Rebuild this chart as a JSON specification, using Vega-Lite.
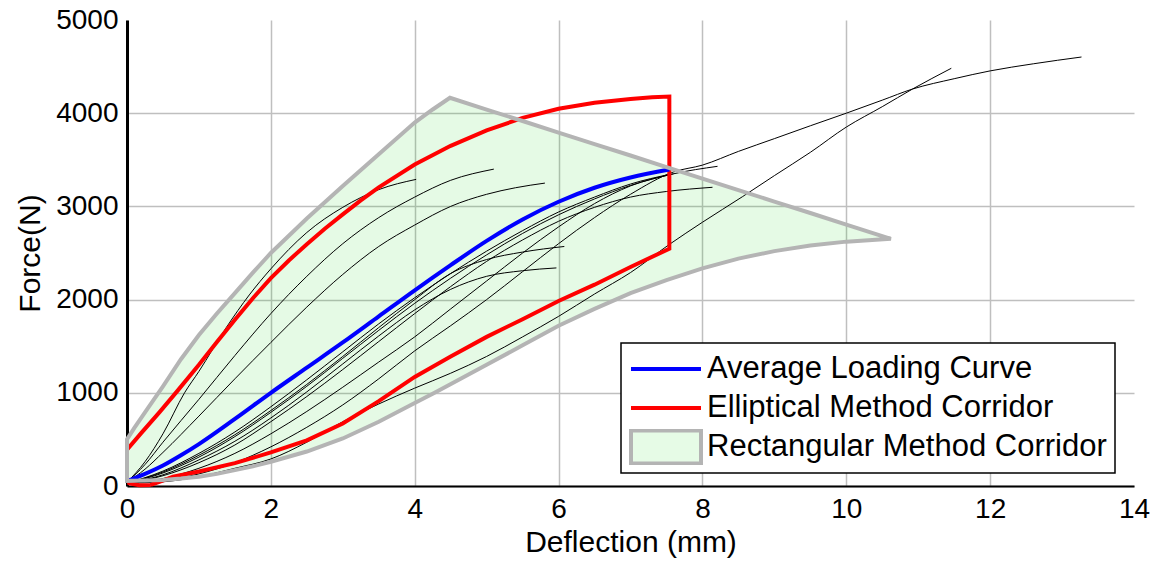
{
  "$schema": "https://vega.github.io/schema/vega-lite/v6.json",
  "width": 1007,
  "height": 466,
  "autosize": {"type": "none"},
  "padding": {"left": 127, "top": 20, "right": 20, "bottom": 81},
  "background": "white",
  "config": {
    "view": {"stroke": null},
    "font": "Liberation Sans",
    "axis": {
      "labelFont": "Liberation Sans",
      "titleFont": "Liberation Sans",
      "labelColor": "black",
      "titleColor": "black",
      "titleFontWeight": "normal",
      "labelFontSize": 28,
      "titleFontSize": 30,
      "ticks": false,
      "tickSize": 0,
      "labelFlush": false,
      "gridColor": "#bfbfbf",
      "gridWidth": 1.5,
      "domainColor": "black"
    }
  },
  "datasets": {
    "rect": [
      {"x": 0, "y": 500, "lo": 55},
      {"x": 0.1, "y": 620, "lo": 56},
      {"x": 0.25, "y": 790, "lo": 58},
      {"x": 0.5, "y": 1070, "lo": 65},
      {"x": 0.75, "y": 1360, "lo": 80},
      {"x": 1, "y": 1620, "lo": 100},
      {"x": 1.25, "y": 1850, "lo": 130},
      {"x": 1.5, "y": 2070, "lo": 170},
      {"x": 1.75, "y": 2290, "lo": 212},
      {"x": 2, "y": 2500, "lo": 260},
      {"x": 2.5, "y": 2870, "lo": 370},
      {"x": 3, "y": 3220, "lo": 510},
      {"x": 3.5, "y": 3560, "lo": 690},
      {"x": 4, "y": 3900, "lo": 890},
      {"x": 4.25, "y": 4040, "lo": 990},
      {"x": 4.49, "y": 4165, "lo": 1090},
      {"x": 5, "y": 4039, "lo": 1300},
      {"x": 5.5, "y": 3916, "lo": 1510},
      {"x": 6, "y": 3792, "lo": 1720},
      {"x": 6.5, "y": 3669, "lo": 1900},
      {"x": 7, "y": 3546, "lo": 2070},
      {"x": 7.5, "y": 3422, "lo": 2210},
      {"x": 8, "y": 3299, "lo": 2335},
      {"x": 8.5, "y": 3175, "lo": 2440},
      {"x": 9, "y": 3052, "lo": 2520},
      {"x": 9.5, "y": 2929, "lo": 2580},
      {"x": 10, "y": 2805, "lo": 2622},
      {"x": 10.62, "y": 2652, "lo": 2652}
    ],
    "tests": [
      {"t": "A", "x": 0, "y": 40}, {"t": "A", "x": 0.25, "y": 260}, {"t": "A", "x": 0.5, "y": 560}, {"t": "A", "x": 0.8, "y": 1000}, {"t": "A", "x": 1, "y": 1230}, {"t": "A", "x": 1.38, "y": 1700}, {"t": "A", "x": 1.7, "y": 2050}, {"t": "A", "x": 2, "y": 2330}, {"t": "A", "x": 2.5, "y": 2720}, {"t": "A", "x": 3, "y": 2990}, {"t": "A", "x": 3.5, "y": 3180}, {"t": "A", "x": 4.02, "y": 3290},
      {"t": "B", "x": 0, "y": 40}, {"t": "B", "x": 0.25, "y": 230}, {"t": "B", "x": 0.5, "y": 470}, {"t": "B", "x": 1, "y": 930}, {"t": "B", "x": 1.5, "y": 1400}, {"t": "B", "x": 2, "y": 1850}, {"t": "B", "x": 2.5, "y": 2250}, {"t": "B", "x": 3, "y": 2600}, {"t": "B", "x": 3.5, "y": 2880}, {"t": "B", "x": 4, "y": 3100}, {"t": "B", "x": 4.5, "y": 3280}, {"t": "B", "x": 5.1, "y": 3400},
      {"t": "C", "x": 0, "y": 40}, {"t": "C", "x": 0.25, "y": 180}, {"t": "C", "x": 0.5, "y": 360}, {"t": "C", "x": 1, "y": 750}, {"t": "C", "x": 1.5, "y": 1150}, {"t": "C", "x": 2, "y": 1540}, {"t": "C", "x": 2.5, "y": 1920}, {"t": "C", "x": 3, "y": 2270}, {"t": "C", "x": 3.5, "y": 2570}, {"t": "C", "x": 4, "y": 2800}, {"t": "C", "x": 4.5, "y": 3000}, {"t": "C", "x": 5, "y": 3130}, {"t": "C", "x": 5.4, "y": 3200}, {"t": "C", "x": 5.81, "y": 3250},
      {"t": "M1", "x": 0, "y": 30}, {"t": "M1", "x": 0.5, "y": 160}, {"t": "M1", "x": 1, "y": 350}, {"t": "M1", "x": 1.5, "y": 580}, {"t": "M1", "x": 2, "y": 850}, {"t": "M1", "x": 2.5, "y": 1140}, {"t": "M1", "x": 3, "y": 1440}, {"t": "M1", "x": 3.5, "y": 1740}, {"t": "M1", "x": 4, "y": 2020}, {"t": "M1", "x": 4.5, "y": 2280}, {"t": "M1", "x": 5, "y": 2520}, {"t": "M1", "x": 5.5, "y": 2740}, {"t": "M1", "x": 6, "y": 2940}, {"t": "M1", "x": 6.5, "y": 3100}, {"t": "M1", "x": 7, "y": 3240}, {"t": "M1", "x": 7.55, "y": 3345},
      {"t": "M2", "x": 0, "y": 30}, {"t": "M2", "x": 0.5, "y": 140}, {"t": "M2", "x": 1, "y": 310}, {"t": "M2", "x": 1.5, "y": 530}, {"t": "M2", "x": 2, "y": 790}, {"t": "M2", "x": 2.5, "y": 1070}, {"t": "M2", "x": 3, "y": 1370}, {"t": "M2", "x": 3.5, "y": 1670}, {"t": "M2", "x": 4, "y": 1960}, {"t": "M2", "x": 4.5, "y": 2230}, {"t": "M2", "x": 5, "y": 2480}, {"t": "M2", "x": 5.5, "y": 2710}, {"t": "M2", "x": 6, "y": 2910}, {"t": "M2", "x": 6.5, "y": 3080}, {"t": "M2", "x": 7, "y": 3225}, {"t": "M2", "x": 7.6, "y": 3350},
      {"t": "D", "x": 0, "y": 30}, {"t": "D", "x": 0.5, "y": 150}, {"t": "D", "x": 1, "y": 330}, {"t": "D", "x": 1.5, "y": 550}, {"t": "D", "x": 2, "y": 810}, {"t": "D", "x": 2.5, "y": 1090}, {"t": "D", "x": 3, "y": 1390}, {"t": "D", "x": 3.5, "y": 1700}, {"t": "D", "x": 4, "y": 2000}, {"t": "D", "x": 4.5, "y": 2280}, {"t": "D", "x": 5, "y": 2430}, {"t": "D", "x": 5.5, "y": 2510}, {"t": "D", "x": 6.08, "y": 2570},
      {"t": "E", "x": 0, "y": 30}, {"t": "E", "x": 0.5, "y": 120}, {"t": "E", "x": 1, "y": 280}, {"t": "E", "x": 1.5, "y": 480}, {"t": "E", "x": 2, "y": 730}, {"t": "E", "x": 2.5, "y": 1010}, {"t": "E", "x": 3, "y": 1310}, {"t": "E", "x": 3.5, "y": 1610}, {"t": "E", "x": 4, "y": 1890}, {"t": "E", "x": 4.5, "y": 2110}, {"t": "E", "x": 5, "y": 2250}, {"t": "E", "x": 5.5, "y": 2310}, {"t": "E", "x": 5.97, "y": 2340},
      {"t": "F", "x": 0, "y": 30}, {"t": "F", "x": 0.5, "y": 110}, {"t": "F", "x": 1, "y": 250}, {"t": "F", "x": 1.5, "y": 440}, {"t": "F", "x": 2, "y": 690}, {"t": "F", "x": 2.5, "y": 960}, {"t": "F", "x": 3, "y": 1250}, {"t": "F", "x": 3.5, "y": 1550}, {"t": "F", "x": 4, "y": 1850}, {"t": "F", "x": 4.5, "y": 2140}, {"t": "F", "x": 5, "y": 2410}, {"t": "F", "x": 5.5, "y": 2640}, {"t": "F", "x": 6, "y": 2840}, {"t": "F", "x": 6.5, "y": 2990}, {"t": "F", "x": 7, "y": 3100}, {"t": "F", "x": 7.5, "y": 3160}, {"t": "F", "x": 8.14, "y": 3205},
      {"t": "G", "x": 0, "y": 30}, {"t": "G", "x": 0.5, "y": 80}, {"t": "G", "x": 1, "y": 190}, {"t": "G", "x": 1.5, "y": 350}, {"t": "G", "x": 2, "y": 560}, {"t": "G", "x": 2.5, "y": 800}, {"t": "G", "x": 3, "y": 1060}, {"t": "G", "x": 3.5, "y": 1330}, {"t": "G", "x": 4, "y": 1600}, {"t": "G", "x": 4.5, "y": 1900}, {"t": "G", "x": 5, "y": 2200}, {"t": "G", "x": 5.5, "y": 2500}, {"t": "G", "x": 6, "y": 2780}, {"t": "G", "x": 6.5, "y": 3030}, {"t": "G", "x": 7, "y": 3220}, {"t": "G", "x": 7.6, "y": 3350}, {"t": "G", "x": 8.21, "y": 3430},
      {"t": "H", "x": 0, "y": 30}, {"t": "H", "x": 0.5, "y": 60}, {"t": "H", "x": 1, "y": 130}, {"t": "H", "x": 1.5, "y": 250}, {"t": "H", "x": 2, "y": 420}, {"t": "H", "x": 2.5, "y": 630}, {"t": "H", "x": 3, "y": 870}, {"t": "H", "x": 3.5, "y": 1150}, {"t": "H", "x": 4, "y": 1450}, {"t": "H", "x": 4.5, "y": 1720}, {"t": "H", "x": 5, "y": 2000}, {"t": "H", "x": 5.5, "y": 2300}, {"t": "H", "x": 6, "y": 2600}, {"t": "H", "x": 6.5, "y": 2880}, {"t": "H", "x": 7, "y": 3130}, {"t": "H", "x": 7.6, "y": 3370}, {"t": "H", "x": 8, "y": 3443}, {"t": "H", "x": 8.5, "y": 3590}, {"t": "H", "x": 9, "y": 3727}, {"t": "H", "x": 9.5, "y": 3865}, {"t": "H", "x": 10, "y": 4000}, {"t": "H", "x": 10.5, "y": 4140}, {"t": "H", "x": 10.92, "y": 4259}, {"t": "H", "x": 11.5, "y": 4370}, {"t": "H", "x": 12, "y": 4454}, {"t": "H", "x": 12.6, "y": 4530}, {"t": "H", "x": 13.27, "y": 4603},
      {"t": "I", "x": 0, "y": 30}, {"t": "I", "x": 0.5, "y": 45}, {"t": "I", "x": 1, "y": 100}, {"t": "I", "x": 1.5, "y": 190}, {"t": "I", "x": 2, "y": 290}, {"t": "I", "x": 2.5, "y": 470}, {"t": "I", "x": 3, "y": 690}, {"t": "I", "x": 3.5, "y": 880}, {"t": "I", "x": 4, "y": 1050}, {"t": "I", "x": 4.5, "y": 1210}, {"t": "I", "x": 5, "y": 1390}, {"t": "I", "x": 5.5, "y": 1600}, {"t": "I", "x": 6, "y": 1820}, {"t": "I", "x": 6.5, "y": 2060}, {"t": "I", "x": 7, "y": 2290}, {"t": "I", "x": 7.54, "y": 2592}, {"t": "I", "x": 8, "y": 2830}, {"t": "I", "x": 8.56, "y": 3106}, {"t": "I", "x": 9, "y": 3330}, {"t": "I", "x": 9.5, "y": 3580}, {"t": "I", "x": 10, "y": 3851}, {"t": "I", "x": 10.5, "y": 4070}, {"t": "I", "x": 10.92, "y": 4259}, {"t": "I", "x": 11.46, "y": 4482}
    ],
    "ellipse": [
      {"series": "Elliptical Method Corridor", "i": 0, "x": 0.33, "y": 12},
      {"series": "Elliptical Method Corridor", "i": 1, "x": 0.17, "y": 8},
      {"series": "Elliptical Method Corridor", "i": 2, "x": 0.03, "y": 30},
      {"series": "Elliptical Method Corridor", "i": 3, "x": 0, "y": 90},
      {"series": "Elliptical Method Corridor", "i": 4, "x": 0, "y": 390},
      {"series": "Elliptical Method Corridor", "i": 5, "x": 0.2, "y": 570},
      {"series": "Elliptical Method Corridor", "i": 6, "x": 0.45, "y": 790},
      {"series": "Elliptical Method Corridor", "i": 7, "x": 0.69, "y": 1010},
      {"series": "Elliptical Method Corridor", "i": 8, "x": 1, "y": 1300},
      {"series": "Elliptical Method Corridor", "i": 9, "x": 1.25, "y": 1545},
      {"series": "Elliptical Method Corridor", "i": 10, "x": 1.5, "y": 1785},
      {"series": "Elliptical Method Corridor", "i": 11, "x": 1.75, "y": 2015},
      {"series": "Elliptical Method Corridor", "i": 12, "x": 2, "y": 2230},
      {"series": "Elliptical Method Corridor", "i": 13, "x": 2.25, "y": 2420},
      {"series": "Elliptical Method Corridor", "i": 14, "x": 2.5, "y": 2595},
      {"series": "Elliptical Method Corridor", "i": 15, "x": 2.75, "y": 2760},
      {"series": "Elliptical Method Corridor", "i": 16, "x": 3, "y": 2915},
      {"series": "Elliptical Method Corridor", "i": 17, "x": 3.25, "y": 3065},
      {"series": "Elliptical Method Corridor", "i": 18, "x": 3.5, "y": 3205},
      {"series": "Elliptical Method Corridor", "i": 19, "x": 4, "y": 3449},
      {"series": "Elliptical Method Corridor", "i": 20, "x": 4.5, "y": 3650},
      {"series": "Elliptical Method Corridor", "i": 21, "x": 5, "y": 3815},
      {"series": "Elliptical Method Corridor", "i": 22, "x": 5.5, "y": 3950},
      {"series": "Elliptical Method Corridor", "i": 23, "x": 6, "y": 4047},
      {"series": "Elliptical Method Corridor", "i": 24, "x": 6.5, "y": 4112},
      {"series": "Elliptical Method Corridor", "i": 25, "x": 7, "y": 4152},
      {"series": "Elliptical Method Corridor", "i": 26, "x": 7.3, "y": 4170},
      {"series": "Elliptical Method Corridor", "i": 27, "x": 7.54, "y": 4178},
      {"series": "Elliptical Method Corridor", "i": 28, "x": 7.54, "y": 2546},
      {"series": "Elliptical Method Corridor", "i": 29, "x": 7, "y": 2350},
      {"series": "Elliptical Method Corridor", "i": 30, "x": 6.5, "y": 2160},
      {"series": "Elliptical Method Corridor", "i": 31, "x": 6, "y": 1985},
      {"series": "Elliptical Method Corridor", "i": 32, "x": 5.5, "y": 1790},
      {"series": "Elliptical Method Corridor", "i": 33, "x": 5, "y": 1600},
      {"series": "Elliptical Method Corridor", "i": 34, "x": 4.5, "y": 1390},
      {"series": "Elliptical Method Corridor", "i": 35, "x": 4, "y": 1170},
      {"series": "Elliptical Method Corridor", "i": 36, "x": 3.5, "y": 910},
      {"series": "Elliptical Method Corridor", "i": 37, "x": 3, "y": 670},
      {"series": "Elliptical Method Corridor", "i": 38, "x": 2.5, "y": 490},
      {"series": "Elliptical Method Corridor", "i": 39, "x": 2, "y": 360},
      {"series": "Elliptical Method Corridor", "i": 40, "x": 1.5, "y": 245},
      {"series": "Elliptical Method Corridor", "i": 41, "x": 1, "y": 155},
      {"series": "Elliptical Method Corridor", "i": 42, "x": 0.64, "y": 100},
      {"series": "Elliptical Method Corridor", "i": 43, "x": 0.45, "y": 45},
      {"series": "Elliptical Method Corridor", "i": 44, "x": 0.33, "y": 12}
    ],
    "avg": [
      {"series": "Average Loading Curve", "x": 0.03, "y": 60},
      {"series": "Average Loading Curve", "x": 0.25, "y": 130},
      {"series": "Average Loading Curve", "x": 0.5, "y": 220},
      {"series": "Average Loading Curve", "x": 0.75, "y": 330},
      {"series": "Average Loading Curve", "x": 1, "y": 450},
      {"series": "Average Loading Curve", "x": 1.5, "y": 720},
      {"series": "Average Loading Curve", "x": 2, "y": 1000},
      {"series": "Average Loading Curve", "x": 2.5, "y": 1270},
      {"series": "Average Loading Curve", "x": 3, "y": 1540},
      {"series": "Average Loading Curve", "x": 3.5, "y": 1820},
      {"series": "Average Loading Curve", "x": 4, "y": 2100},
      {"series": "Average Loading Curve", "x": 4.5, "y": 2370},
      {"series": "Average Loading Curve", "x": 5, "y": 2630},
      {"series": "Average Loading Curve", "x": 5.5, "y": 2860},
      {"series": "Average Loading Curve", "x": 6, "y": 3050},
      {"series": "Average Loading Curve", "x": 6.5, "y": 3200},
      {"series": "Average Loading Curve", "x": 7, "y": 3310},
      {"series": "Average Loading Curve", "x": 7.54, "y": 3395}
    ]
  },
  "encoding": {
    "x": {
      "field": "x", "type": "quantitative",
      "scale": {"domain": [0, 14], "nice": false, "zero": false},
      "axis": {
        "title": "Deflection (mm)",
        "values": [0, 2, 4, 6, 8, 10, 12, 14],
        "format": "d",
        "labelPadding": 9,
        "titlePadding": 4,
        "domainWidth": 2,
        "gridOpacity": {"condition": {"test": "datum.value >= 14", "value": 0}, "value": 1}
      }
    },
    "y": {
      "field": "y", "type": "quantitative",
      "scale": {"domain": [0, 5000], "nice": false},
      "axis": {
        "title": "Force(N)",
        "values": [0, 1000, 2000, 3000, 4000, 5000],
        "format": "d",
        "labelPadding": 9,
        "titlePadding": 10,
        "domainWidth": 3,
        "gridOpacity": {"condition": {"test": "datum.value >= 5000", "value": 0}, "value": 1}
      }
    }
  },
  "layer": [
    {
      "data": {"name": "rect"},
      "mark": {"type": "area", "fill": "#00d000", "fillOpacity": 0.1, "strokeWidth": 0},
      "encoding": {
        "y2": {"field": "lo"}
      }
    },
    {
      "data": {"name": "tests"},
      "mark": {"type": "line", "color": "black", "strokeWidth": 1, "interpolate": "monotone"},
      "encoding": {
        "detail": {"field": "t"}
      }
    },
    {
      "data": {"name": "ellipse"},
      "mark": {"type": "line", "strokeWidth": 4, "strokeJoin": "miter"},
      "encoding": {
        "order": {"field": "i", "type": "quantitative"},
        "stroke": {
          "field": "series", "type": "nominal",
          "scale": {
            "domain": ["Average Loading Curve", "Elliptical Method Corridor", "Rectangular Method Corridor"],
            "range": ["#0000ff", "#ff0000", "#b4b4b4"]
          },
          "legend": {
            "title": null,
            "orient": "none",
            "legendX": 494,
            "legendY": 323,
            "symbolType": "stroke",
            "symbolSize": 4900,
            "symbolStrokeWidth": 4,
            "clipHeight": 36,
            "rowPadding": 3,
            "padding": 8,
            "labelOffset": 4,
            "labelFont": "Liberation Sans",
            "labelFontSize": 31,
            "labelColor": "black",
            "labelLimit": 800,
            "strokeColor": "black",
            "fillColor": "white",
            "encode": {
              "symbols": {
                "update": {
                  "shape": {"signal": "datum.value === 'Rectangular Method Corridor' ? 'M-1,-0.47H1V0.47H-1Z' : 'M-1,0H1'"},
                  "fill": {"signal": "datum.value === 'Rectangular Method Corridor' ? '#e6fbe6' : 'transparent'"},
                  "fillOpacity": {"value": 1},
                  "strokeOpacity": {"value": 1},
                  "strokeWidth": {"value": 4}
                }
              },
              "legend": {"update": {"strokeWidth": {"value": 1.5}}}
            }
          }
        }
      }
    },
    {
      "data": {"name": "avg"},
      "mark": {"type": "line", "strokeWidth": 4, "interpolate": "monotone"},
      "encoding": {
        "stroke": {"field": "series", "type": "nominal"}
      }
    },
    {
      "data": {"name": "rect"},
      "mark": {"type": "area", "fillOpacity": 0, "fill": "white", "stroke": "#b4b4b4", "strokeWidth": 4},
      "encoding": {
        "y2": {"field": "lo"}
      }
    }
  ]
}
